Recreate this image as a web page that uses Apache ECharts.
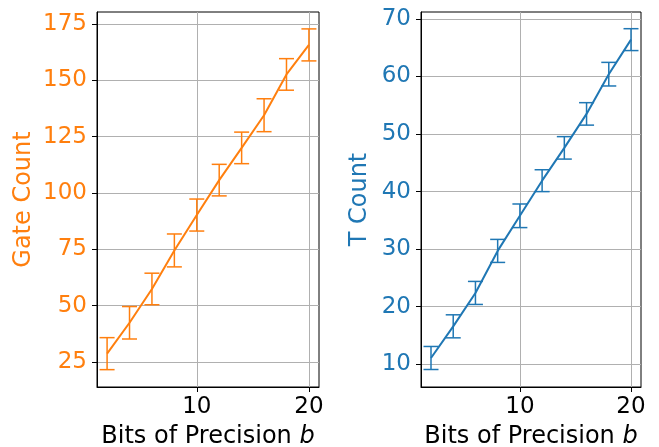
<!DOCTYPE html>
<html>
<head>
<meta charset="utf-8">
<script src="https://cdn.jsdelivr.net/npm/echarts@6/dist/echarts.min.js"></script>
<style>html,body{margin:0;padding:0;background:#fff}#c{width:659px;height:447px}</style>
</head>
<body>
<div id="c"></div>
<script>
var bits = [2, 4, 6, 8, 10, 12, 14, 16, 18, 20];
var gateMean = [28.7, 42.4, 57.4, 74.5, 90.2, 105.7, 120.0, 134.5, 152.6, 165.7];
var gateErr = [7.1, 7.2, 7.0, 7.3, 7.1, 7.0, 7.0, 7.3, 7.0, 7.1];
var tMean = [11.1, 16.6, 22.4, 29.7, 35.8, 41.9, 47.6, 53.5, 60.4, 66.4];
var tErr = [2.0, 2.0, 2.0, 2.0, 2.05, 1.9, 1.95, 1.95, 2.05, 1.9];
var xTicks = [10, 20];
var gateTicks = [25, 50, 75, 100, 125, 150, 175];
var tTicks = [10, 20, 30, 40, 50, 60, 70];

var ORANGE = '#ff7f0e', BLUE = '#1f77b4';
var FONT = 'DejaVu Sans';

function errRender(color) {
  return function (params, api) {
    var x = api.value(0), y = api.value(1), e = api.value(2);
    var top = api.coord([x, y + e]);
    var bot = api.coord([x, y - e]);
    var hw = 7.5;
    var st = {stroke: color, lineWidth: 1.5};
    return {
      type: 'group',
      children: [
        {type: 'line', shape: {x1: top[0], y1: top[1], x2: bot[0], y2: bot[1]}, style: st},
        {type: 'line', shape: {x1: top[0] - hw, y1: top[1], x2: top[0] + hw, y2: top[1]}, style: st},
        {type: 'line', shape: {x1: bot[0] - hw, y1: bot[1], x2: bot[0] + hw, y2: bot[1]}, style: st}
      ]
    };
  };
}

function xAxisDef(idx) {
  return {
    type: 'value', gridIndex: idx, min: 1.1, max: 20.9,
    name: 'Bits of Precision {i|b}', nameLocation: 'middle', nameGap: 38,
    nameTextStyle: {fontSize: 24, color: '#000', fontFamily: FONT,
      rich: {i: {fontSize: 24, fontStyle: 'italic', fontFamily: FONT, color: '#000'}}},
    axisLine: {show: true, onZero: false, lineStyle: {color: '#000', width: 1}},
    axisTick: {show: true, length: 5, customValues: xTicks, lineStyle: {color: '#000'}},
    axisLabel: {customValues: xTicks, fontSize: 23, color: '#000', fontFamily: FONT, margin: 9},
    splitLine: {show: true, lineStyle: {color: '#b0b0b0', width: 1}}
  };
}

function yAxisDef(idx, min, max, ticks, name, color, gap) {
  return {
    type: 'value', gridIndex: idx, min: min, max: max,
    name: name, nameLocation: 'middle', nameGap: gap,
    nameTextStyle: {fontSize: 24, color: color, fontFamily: FONT},
    axisLine: {show: true, lineStyle: {color: '#000', width: 1}},
    axisTick: {show: true, length: 5, customValues: ticks, lineStyle: {color: '#000'}},
    axisLabel: {customValues: ticks, fontSize: 23, color: color, fontFamily: FONT, margin: 10},
    splitLine: {show: true, lineStyle: {color: '#b0b0b0', width: 1}}
  };
}

function pairs(xs, ys) { return xs.map(function (x, i) { return [x, ys[i]]; }); }
function triples(xs, ys, es) { return xs.map(function (x, i) { return [x, ys[i], es[i]]; }); }

var chart = echarts.init(document.getElementById('c'), null, {renderer: 'canvas'});
chart.setOption({
  animation: false,
  backgroundColor: '#fff',
  textStyle: {fontFamily: FONT},
  grid: [
    {left: 97, right: 340, top: 12, bottom: 60, show: true, borderColor: '#000', borderWidth: 1,
      containLabel: false, outerBoundsMode: 'none'},
    {left: 421, right: 18, top: 12, bottom: 60, show: true, borderColor: '#000', borderWidth: 1,
      containLabel: false, outerBoundsMode: 'none'}
  ],
  xAxis: [xAxisDef(0), xAxisDef(1)],
  yAxis: [
    yAxisDef(0, 13.9, 180.3, gateTicks, 'Gate Count', ORANGE, 61),
    yAxisDef(1, 6.06, 71.2, tTicks, 'T Count', BLUE, 49)
  ],
  series: [
    {type: 'line', xAxisIndex: 0, yAxisIndex: 0, data: pairs(bits, gateMean), symbol: 'none',
      lineStyle: {color: ORANGE, width: 2}, itemStyle: {color: ORANGE}},
    {type: 'custom', xAxisIndex: 0, yAxisIndex: 0, data: triples(bits, gateMean, gateErr),
      renderItem: errRender(ORANGE), encode: {x: 0, y: [1]}, clip: false},
    {type: 'line', xAxisIndex: 1, yAxisIndex: 1, data: pairs(bits, tMean), symbol: 'none',
      lineStyle: {color: BLUE, width: 2}, itemStyle: {color: BLUE}},
    {type: 'custom', xAxisIndex: 1, yAxisIndex: 1, data: triples(bits, tMean, tErr),
      renderItem: errRender(BLUE), encode: {x: 0, y: [1]}, clip: false}
  ]
});
</script>
</body>
</html>
